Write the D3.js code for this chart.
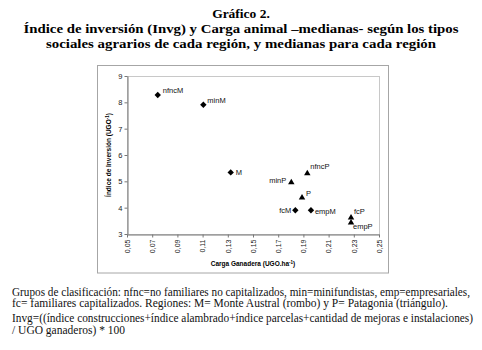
<!DOCTYPE html>
<html>
<head>
<meta charset="utf-8">
<script src="https://cdn.jsdelivr.net/npm/d3@7"></script>
<style>
  body { margin: 0; background: #fff; }
  svg { display: block; }
</style>
</head>
<body>
<div id="chart"></div>
<script>
// medianas por grupo: carga ganadera (UGO/ha) e indice de inversion
var groups  = ["nfncM", "minM", "M", "nfncP", "minP", "P", "fcM", "empM", "fcP", "empP"];
var carga   = [0.0744, 0.1106, 0.1323, 0.1931, 0.1804, 0.1889, 0.1836, 0.1960, 0.2278, 0.2278];
var invg    = [8.28, 7.91, 5.34, 5.30, 4.96, 4.38, 3.90, 3.90, 3.62, 3.43];
var region  = ["M", "M", "M", "P", "P", "P", "M", "M", "P", "P"];
var xTicks  = [0.05, 0.07, 0.09, 0.11, 0.13, 0.15, 0.17, 0.19, 0.21, 0.23, 0.25];
var yTicks  = [3, 4, 5, 6, 7, 8, 9];

var titleLines = [
    "Gráfico 2.",
    "Índice de inversión (Invg) y Carga animal –medianas- según los tipos",
    "sociales agrarios de cada región, y medianas para cada región"
];
var noteLines = [
    "Grupos de clasificación: nfnc=no familiares no capitalizados, min=minifundistas, emp=empresariales,",
    "fc= familiares capitalizados. Regiones: M= Monte Austral (rombo) y P= Patagonia (triángulo).",
    "Invg=((índice construcciones+índice alambrado+índice parcelas+cantidad de mejoras e instalaciones)",
    "/ UGO ganaderos) * 100"
];

var width = 482, height = 350;
var svg = d3.select("#chart").append("svg")
    .attr("width", width)
    .attr("height", height);

// title
var titleY = [18, 33, 48];
var titleW = [null, 435, 390];
titleLines.forEach(function (t, i) {
    var txt = svg.append("text")
        .attr("x", 241)
        .attr("y", titleY[i])
        .attr("text-anchor", "middle")
        .style("font-family", "Liberation Serif, Times New Roman, serif")
        .style("font-weight", "bold")
        .style("font-size", "13.5px")
        .text(t);
    if (titleW[i]) txt.attr("textLength", titleW[i]).attr("lengthAdjust", "spacingAndGlyphs");
});

// chart frame
svg.append("rect")
    .attr("x", 97.5).attr("y", 65.5)
    .attr("width", 291).attr("height", 207.5)
    .attr("fill", "#fff")
    .attr("stroke", "#a6a6a6")
    .attr("stroke-width", 1);

// plot box (note: "top" is reserved on window, so use plot* names)
var plotL = 127, plotR = 379, plotT = 76, plotB = 234;

var x = d3.scaleLinear().domain([0.05, 0.25]).range([plotL, plotR]);
var y = d3.scaleLinear().domain([3, 9]).range([plotB, plotT]);

// plot area border
svg.append("rect")
    .attr("x", plotL + 0.5).attr("y", plotT + 0.5)
    .attr("width", plotR - plotL).attr("height", plotB - plotT)
    .attr("fill", "none")
    .attr("stroke", "#c8c8c8");

var xAxis = d3.axisBottom(x)
    .tickValues(xTicks)
    .tickSize(3)
    .tickSizeOuter(0)
    .tickFormat(function (d) { return d3.format(".2f")(d).replace(".", ","); });

var gx = svg.append("g")
    .attr("transform", "translate(0," + (plotB + 0.5) + ")")
    .call(xAxis);
gx.select(".domain").attr("stroke", "#777");
gx.selectAll(".tick line").attr("stroke", "#777");
gx.selectAll(".tick text")
    .attr("transform", "rotate(-90)")
    .attr("x", -5)
    .attr("y", 0)
    .attr("dy", "0.32em")
    .attr("text-anchor", "end")
    .style("font-family", "Liberation Sans, Arial, sans-serif")
    .style("font-size", "7px")
    .attr("fill", "#222");

var yAxis = d3.axisLeft(y)
    .tickValues(yTicks)
    .tickSize(3)
    .tickSizeOuter(0)
    .tickFormat(d3.format("d"));

var gy = svg.append("g")
    .attr("transform", "translate(" + (plotL + 0.5) + ",0)")
    .call(yAxis);
gy.select(".domain").attr("stroke", "#777");
gy.selectAll(".tick line").attr("stroke", "#777");
gy.selectAll(".tick text")
    .attr("x", -5)
    .style("font-family", "Liberation Sans, Arial, sans-serif")
    .style("font-size", "7.5px")
    .attr("fill", "#222");

// axis titles
svg.append("text")
    .attr("x", 253)
    .attr("y", 266)
    .attr("text-anchor", "middle")
    .style("font-family", "Liberation Sans, Arial, sans-serif")
    .style("font-weight", "bold")
    .style("font-size", "6.5px")
    .html("Carga Ganadera (UGO.ha<tspan dy='-2.5' font-size='4.5px'>-1</tspan><tspan dy='2.5'>)</tspan>");

svg.append("text")
    .attr("transform", "translate(111,155) rotate(-90)")
    .attr("text-anchor", "middle")
    .style("font-family", "Liberation Sans, Arial, sans-serif")
    .style("font-weight", "bold")
    .style("font-size", "6.5px")
    .html("Índice de Inversión (UGO<tspan dy='-2.5' font-size='4.5px'>-1</tspan><tspan dy='2.5'>)</tspan>");

// points
var pts = groups.map(function (g, i) {
    return { name: g, cx: carga[i], iv: invg[i], reg: region[i] };
});

var diamond = d3.symbol().type(d3.symbolDiamond2).size(26);
var triangle = d3.symbol().type(d3.symbolTriangle2).size(30);

svg.append("g").selectAll("path")
    .data(pts)
    .enter().append("path")
    .attr("transform", function (d) {
        return "translate(" + x(d.cx) + "," + y(d.iv) + ")";
    })
    .attr("d", function (d) { return d.reg === "M" ? diamond() : triangle(); })
    .attr("fill", "#000");

// label offsets next to each marker
var labelPos = {
    nfncM: [5, -2, "start"],
    minM:  [4, -2, "start"],
    M:     [5, 2.5, "start"],
    nfncP: [3, -4, "start"],
    minP:  [-5, 1, "end"],
    P:     [4, -2, "start"],
    fcM:   [-4, 3, "end"],
    empM:  [4, 3.5, "start"],
    fcP:   [3, -4, "start"],
    empP:  [2, 6, "start"]
};

svg.append("g").selectAll("text")
    .data(pts)
    .enter().append("text")
    .attr("x", function (d) { return x(d.cx) + labelPos[d.name][0]; })
    .attr("y", function (d) { return y(d.iv) + labelPos[d.name][1]; })
    .attr("text-anchor", function (d) { return labelPos[d.name][2]; })
    .style("font-family", "Liberation Sans, Arial, sans-serif")
    .style("font-size", "7.5px")
    .attr("fill", "#111")
    .text(function (d) { return d.name; });

// notes below chart
var noteY = [296, 307, 322, 333.5];
var noteW = [458, 436, 461, null];
noteLines.forEach(function (t, i) {
    var txt = svg.append("text")
        .attr("x", 12)
        .attr("y", noteY[i])
        .style("font-family", "Liberation Serif, Times New Roman, serif")
        .style("font-size", "11.5px")
        .attr("fill", "#111")
        .text(t);
    if (noteW[i]) txt.attr("textLength", noteW[i]).attr("lengthAdjust", "spacingAndGlyphs");
});
</script>
</body>
</html>
